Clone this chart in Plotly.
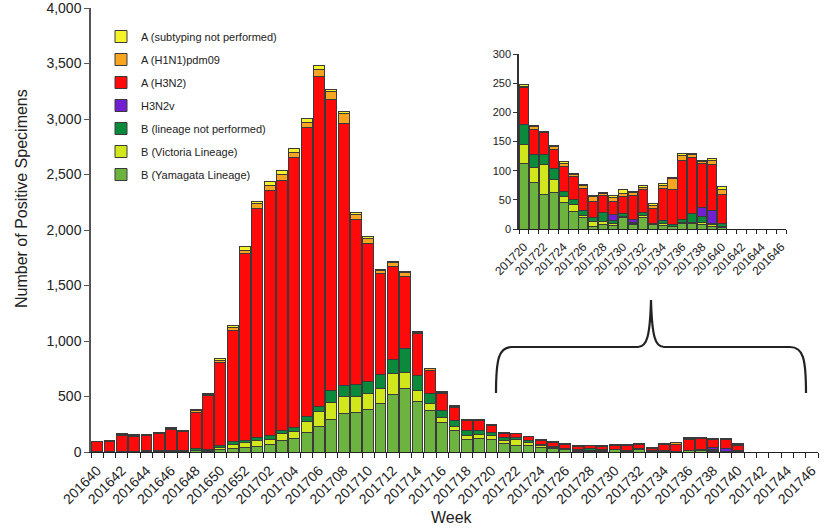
import plotly.graph_objects as go

# ---------------- data ----------------
weeks = ["201640", "201641", "201642", "201643", "201644", "201645", "201646", "201647",
         "201648", "201649", "201650", "201651", "201652",
         "201701", "201702", "201703", "201704", "201705", "201706", "201707", "201708",
         "201709", "201710", "201711", "201712", "201713", "201714", "201715", "201716",
         "201717", "201718", "201719", "201720", "201721", "201722", "201723", "201724",
         "201725", "201726", "201727", "201728", "201729", "201730", "201731", "201732",
         "201733", "201734", "201735", "201736", "201737", "201738", "201739", "201740",
         "201741", "201742", "201743", "201744", "201745", "201746"]

# values for weeks 201640 .. 201740 (weeks 201741-201746 have no data yet)
b_yamagata = [2, 2, 3, 3, 3, 4, 4, 5, 10, 8, 20, 33, 45,
              54, 72, 102, 123, 174, 234, 297, 348, 354, 384, 438, 516, 576, 453, 372, 270, 190, 114, 120,
              112, 80, 60, 63, 45, 30, 20, 5, 8, 6, 20, 8, 20, 7, 6, 4, 10, 10, 8, 5, 3]
b_victoria = [1, 1, 1, 1, 2, 2, 2, 3, 8, 5, 22, 39, 45,
              48, 45, 66, 63, 99, 129, 150, 156, 144, 144, 132, 192, 138, 105, 66, 45, 40, 39, 35,
              33, 26, 50, 22, 10, 12, 3, 8, 5, 3, 2, 2, 3, 1, 3, 1, 2, 2, 3, 2, 1]
b_not_perf = [2, 3, 4, 5, 5, 5, 6, 7, 15, 12, 20, 21, 18,
              27, 33, 30, 36, 51, 45, 105, 96, 114, 108, 132, 126, 219, 135, 90, 63, 55, 45, 40,
              35, 22, 17, 19, 9, 8, 8, 7, 15, 6, 4, 2, 5, 2, 6, 3, 5, 15, 10, 2, 6]
h3n2v = [0, 0, 0, 0, 0, 0, 0, 0, 0, 0, 0, 0, 0,
         0, 0, 0, 0, 0, 0, 0, 0, 0, 0, 0, 0, 0, 0, 0, 0, 0, 0, 0,
         0, 0, 0, 0, 0, 0, 0, 0, 0, 10, 0, 5, 0, 0, 0, 0, 0, 0, 16, 23, 0]
a_h3n2 = [88, 92, 145, 135, 138, 152, 195, 167, 327, 483, 740, 1005, 1682,
          2067, 2208, 2250, 2436, 2598, 2976, 2622, 2364, 1485, 1245, 906, 840, 651, 372, 210, 153, 115, 88, 92,
          62, 42, 38, 33, 44, 40, 39, 27, 30, 23, 30, 41, 40, 25, 55, 60, 100, 95, 76, 78, 50]
a_h1n1 = [3, 4, 6, 5, 6, 6, 7, 6, 10, 10, 18, 22, 30,
          45, 45, 54, 45, 50, 65, 75, 90, 45, 45, 28, 32, 32, 12, 10, 8, 10, 8, 7,
          3, 5, 2, 4, 5, 4, 5, 8, 3, 6, 5, 5, 4, 5, 5, 18, 9, 5, 3, 8, 7]
a_not_sub = [3, 3, 6, 6, 6, 6, 6, 7, 10, 12, 20, 20, 30,
             15, 30, 30, 30, 30, 34, 15, 15, 18, 18, 11, 13, 13, 6, 5, 4, 7, 3, 3,
             3, 3, 1, 2, 3, 2, 2, 3, 2, 4, 6, 2, 2, 3, 3, 3, 3, 3, 2, 3, 6]

# inset: weeks 201720 .. 201746 (tick labels as printed on the original inset)
inset_start = "201720"
inset_tick_labels = ["201720", "201722", "201724", "201726", "201728", "201730", "201732",
                     "201734", "201736", "201738", "201640", "201642", "201644", "201646"]

series_names = ["B (Yamagata Lineage)", "B (Victoria Lineage)", "B (lineage not performed)",
                "H3N2v", "A (H3N2)", "A (H1N1)pdm09", "A (subtyping not performed)"]
series_values = [b_yamagata, b_victoria, b_not_perf, h3n2v, a_h3n2, a_h1n1, a_not_sub]
series_colors = ["#6DB33F", "#D2E61C", "#0B8A3C", "#7020D0", "#FF0A0A", "#F7A520", "#F6F22A"]

# ---------------- figure ----------------
FONT = "Liberation Sans, Arial, sans-serif"
fig = go.Figure()

n_data = len(a_h3n2)
x_main = list(range(n_data))
i0 = weeks.index(inset_start)
n_inset_cats = len(weeks) - i0
x_inset = list(range(n_data - i0))
n_series = len(series_names)

for k, (name, vals, col) in enumerate(zip(series_names, series_values, series_colors)):
    fig.add_trace(go.Bar(
        x=x_main, y=vals, name=name, legendgroup=name, legendrank=n_series - k,
        marker=dict(color=col, line=dict(color="#3a3a3a", width=1)),
        width=0.88, xaxis="x", yaxis="y"))
for name, vals, col in zip(series_names, series_values, series_colors):
    fig.add_trace(go.Bar(
        x=x_inset, y=vals[i0:], name=name, legendgroup=name, showlegend=False,
        marker=dict(color=col, line=dict(color="#3a3a3a", width=1)),
        width=0.92, xaxis="x2", yaxis="y2"))

# plot-area geometry in pixels (for paper conversions of decorations)
L, R, T, B = 91, 818, 8, 452
W, H = 826, 529
def px(xp):
    return (xp - L) / (R - L)
def py(yp):
    return (B - yp) / (B - T)

brace = (f"M {px(496)},{py(393)} C {px(496)},{py(358)} {px(499)},{py(347)} {px(512)},{py(347)} "
         f"L {px(638)},{py(347)} C {px(647)},{py(347)} {px(650)},{py(336)} {px(651)},{py(300)} "
         f"C {px(652)},{py(336)} {px(655)},{py(347)} {px(664)},{py(347)} "
         f"L {px(790)},{py(347)} C {px(803)},{py(347)} {px(806)},{py(358)} {px(806)},{py(393)}")

fig.update_layout(
    width=W, height=H,
    margin=dict(l=L, r=W - R, t=T, b=H - B, autoexpand=False),
    paper_bgcolor="white", plot_bgcolor="white",
    barmode="stack",
    font=dict(family=FONT, color="#222"),
    showlegend=True,
    legend=dict(x=px(101), y=py(22), xanchor="left", yanchor="top",
                traceorder="grouped", tracegroupgap=4,
                font=dict(size=11, family=FONT, color="#222"),
                bgcolor="rgba(0,0,0,0)"),
    xaxis=dict(domain=[0, 1], range=[-0.5, len(weeks) - 0.5],
               tickvals=list(range(0, len(weeks), 2)), ticktext=weeks[::2],
               tickangle=-45, ticks="", tickfont=dict(size=14, color="#222"),
               ticklabelstandoff=4,
               showline=True, linecolor="#222", linewidth=1.2, showgrid=False, zeroline=False,
               minor=dict(tickvals=[i - 0.5 for i in range(len(weeks) + 1)], ticks="outside",
                          ticklen=5, tickcolor="#222", showgrid=False)),
    yaxis=dict(domain=[0, 1], range=[0, 4000.5], tickvals=list(range(0, 4001, 500)),
               tickformat=",", ticks="outside", ticklen=5, tickcolor="#555",
               tickfont=dict(size=14, color="#222"), ticklabeloverflow="allow",
               showline=True, linecolor="#555", linewidth=1.5, showgrid=False, zeroline=False),
    xaxis2=dict(domain=[px(519), px(519) + n_inset_cats * 9.9 / (R - L)], anchor="y2",
                range=[-0.5, n_inset_cats - 0.5],
                tickvals=list(range(0, n_inset_cats, 2)), ticktext=inset_tick_labels,
                tickangle=-45, ticks="", tickfont=dict(size=12, color="#222"),
                ticklabelstandoff=5,
                showline=True, linecolor="#222", linewidth=1.2, showgrid=False, zeroline=False,
                minor=dict(tickvals=[i - 0.5 for i in range(n_inset_cats + 1)], ticks="outside",
                           ticklen=4, tickcolor="#222", showgrid=False)),
    yaxis2=dict(domain=[py(229), py(54)], anchor="x2", range=[0, 300],
                tickvals=list(range(0, 301, 50)), ticks="outside", ticklen=4, tickcolor="#333",
                tickfont=dict(size=11, color="#222"),
                showline=True, linecolor="#333", linewidth=1.5, showgrid=False, zeroline=False),
    shapes=[dict(type="path", path=brace, xref="paper", yref="paper",
                 line=dict(color="#222", width=2.2))],
    annotations=[
        dict(text="Number of Positive Specimens", x=px(21), y=py(199), xref="paper", yref="paper",
             textangle=-90, showarrow=False, font=dict(size=16, color="#222"),
             xanchor="center", yanchor="middle"),
        dict(text="Week", x=px(452), y=py(517), xref="paper", yref="paper",
             showarrow=False, font=dict(size=16, color="#222"),
             xanchor="center", yanchor="middle"),
    ],
)

fig.write_html("out.html", config={"displayModeBar": False},
               post_script="document.body.style.margin='0';document.body.style.padding='0';")
